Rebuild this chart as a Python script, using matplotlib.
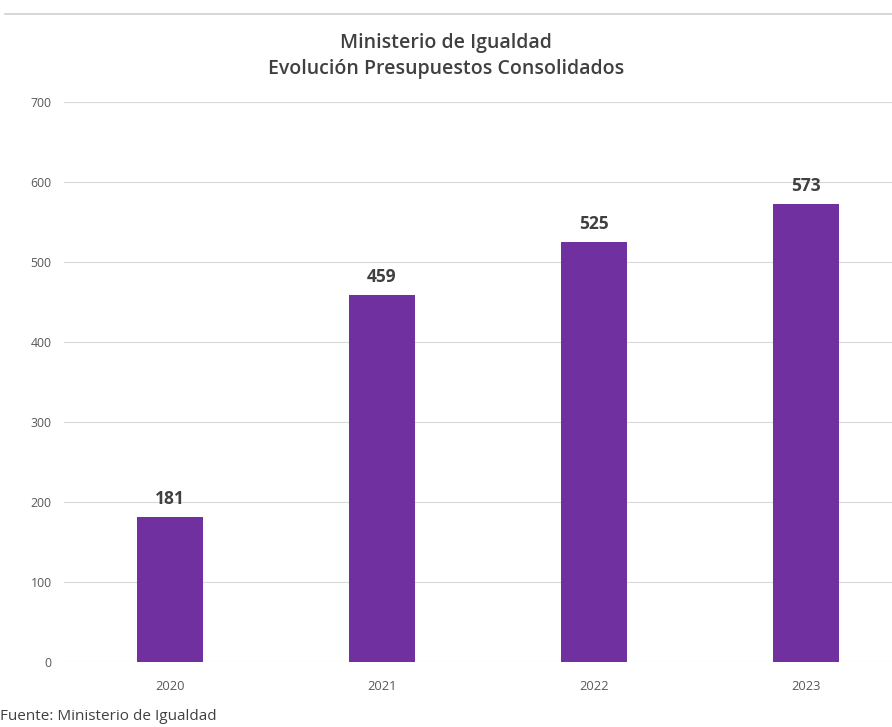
import matplotlib
matplotlib.use("Agg")
import matplotlib.pyplot as plt
from matplotlib.lines import Line2D

years = ["2020", "2021", "2022", "2023"]
values = [181, 459, 525, 573]
yticks = [0, 100, 200, 300, 400, 500, 600, 700]

title = "Ministerio de Igualdad\nEvolución Presupuestos Consolidados"
source = "Fuente: Ministerio de Igualdad"

W, H = 892, 727
fig = plt.figure(figsize=(W / 100, H / 100), dpi=100)
plt.rcParams['font.family'] = ['Open Sans', 'DejaVu Sans']

ax = fig.add_axes([64 / W, 1 - 662 / H, 1 - 64 / W, (662 - 102) / H])
x = list(range(len(years)))
ax.bar(x, values, width=66 / 212, color="#7030A0", zorder=3)
ax.set_xlim(-0.5, (W - 64) / 212 - 0.5)
ax.set_ylim(0, 700)
ax.set_yticks(yticks)
ax.set_yticklabels([str(t) for t in yticks], fontsize=8.8, color="#595959")
ax.set_xticks(x)
ax.set_xticklabels(years, fontsize=9.3, color="#595959")
ax.tick_params(axis="both", length=0)
ax.tick_params(axis="y", pad=9)
ax.tick_params(axis="x", pad=13)
ax.grid(axis="y", color="#D9D9D9", linewidth=0.8, zorder=0)
for s in ax.spines.values():
    s.set_visible(False)

for xi, v in zip(x, values):
    ax.annotate(str(v), (xi, v), xytext=(0, 6.5), textcoords="offset points",
                ha="center", va="bottom", fontsize=12.5, fontweight="bold",
                color="#404040")

fig.text(0.5, 1 - 56 / H, title, ha="center", va="center", fontsize=14,
         fontweight="semibold", color="#404040", linespacing=1.45)
fig.text(0 / W, 1 - 716 / H, source, ha="left", va="center", fontsize=11,
         color="#404040")
fig.add_artist(Line2D([5 / W, 1], [1 - 14 / H, 1 - 14 / H],
                      transform=fig.transFigure, color="#D0D0D0", linewidth=1.2))

fig.savefig("out.png", dpi=100, facecolor="white")
